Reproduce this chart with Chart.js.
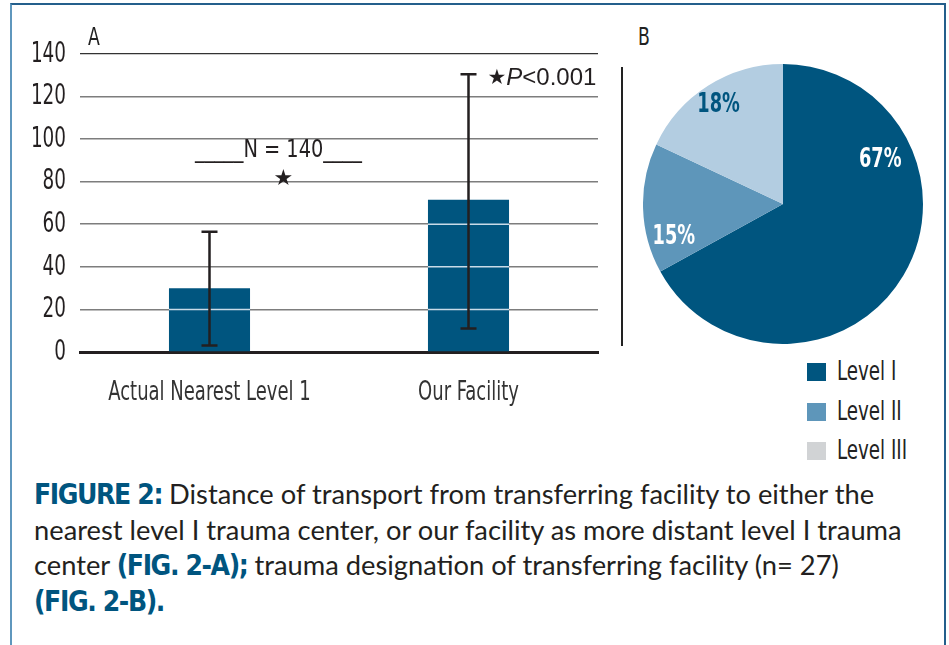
<!DOCTYPE html>
<html>
<head>
<meta charset="utf-8">
<script src="https://cdn.jsdelivr.net/npm/chart.js@4.4.1/dist/chart.umd.min.js"></script>
<style>
html,body{margin:0;padding:0;background:#fff;width:949px;height:645px;overflow:hidden;}
#frame{position:absolute;left:10px;top:3px;width:936px;height:720px;box-sizing:border-box;border:2px solid #245f8c;border-left-color:#5f97bd;}
#barWrap{position:absolute;left:0;top:0;}
#pieWrap{position:absolute;left:643px;top:64px;}
.lbl{position:absolute;font-family:'DejaVu Sans Condensed',sans-serif;font-size:24px;color:#222;line-height:1;transform:scaleX(0.8);transform-origin:left top;}
#sep{position:absolute;left:621px;top:67px;width:2px;height:279px;background:#222;}
#legend{position:absolute;left:807px;top:359px;font-family:'DejaVu Sans Condensed',sans-serif;font-size:26px;color:#222;}
#legend .row{height:39.5px;display:flex;align-items:flex-start;}
#legend .sw{width:19px;height:18px;margin-top:4px;margin-right:11px;flex:none;}
#legend .tx{display:inline-block;transform:scaleX(0.78);transform-origin:left top;line-height:1;margin-top:-1px;white-space:nowrap;}
#caption{position:absolute;left:34px;top:476px;font-family:Lato,'Open Sans',sans-serif;font-size:27.3px;line-height:35px;color:#231f20;white-space:nowrap;}
#caption b{font-family:'DejaVu Sans Condensed',sans-serif;font-weight:bold;color:#00557f;font-size:28px;letter-spacing:-1.4px;}
</style>
</head>
<body>
<div id="frame"></div>
<div id="barWrap"><canvas id="bar" width="620" height="420"></canvas></div>
<div id="sep"></div>
<div id="pieWrap"><canvas id="pie" width="280" height="280"></canvas></div>
<div class="lbl" style="left:88px;top:25px;">A</div>
<div class="lbl" style="left:638px;top:25px;">B</div>
<div id="legend"></div>
<div id="caption"><b>FIGURE 2:</b> Distance of transport from transferring facility to either the<br>nearest level I trauma center, or our facility as more distant level I trauma<br>center <b>(FIG. 2-A);</b> trauma designation of transferring facility (n= 27)<br><b>(FIG. 2-B).</b></div>
<script>
// ---- data ----
const categories = ['Actual Nearest Level 1', 'Our Facility'];
const meanDistance = [30, 71.5];
const errLow = [3, 11];
const errHigh = [56.5, 130.5];
const yMin = 0, yMax = 140, yStep = 20;

const pieLabels = ['Level I', 'Level II', 'Level III'];
const piePercents = [67, 15, 18];
const pieColors = ['#00557f', '#5e96ba', '#b3cde1'];
const legendColors = ['#00557f', '#5e96ba', '#d1d3d5'];
const pieLabelColors = ['#ffffff', '#ffffff', '#00557f'];

const COND = "'DejaVu Sans Condensed',sans-serif";
const REG = "'Liberation Sans','DejaVu Sans',sans-serif";

// draw horizontally condensed text
function condText(ctx, text, x, y, align, font, sx, baseline) {
  ctx.save();
  ctx.translate(x, y);
  ctx.scale(sx, 1);
  ctx.font = font;
  ctx.textAlign = align;
  ctx.textBaseline = baseline || 'middle';
  ctx.fillText(text, 0, 0);
  ctx.restore();
}

// ---- bar chart plugins ----
const barOverlay = {
  id: 'barOverlay',
  afterDatasetsDraw(chart) {
    const ctx = chart.ctx;
    const y = chart.scales.y;
    const meta = chart.getDatasetMeta(0);
    ctx.save();
    meta.data.forEach(bar => {
      const p = bar.getProps(['x', 'y', 'base', 'width'], true);
      y.ticks.forEach(t => {
        const py = y.getPixelForValue(t.value);
        if (t.value > 0 && py > p.y + 1 && py < p.base - 1) {
          ctx.strokeStyle = '#c9dbe8';
          ctx.lineWidth = 1.5;
          ctx.beginPath();
          ctx.moveTo(p.x - p.width / 2, py);
          ctx.lineTo(p.x + p.width / 2, py);
          ctx.stroke();
        }
      });
    });
    ctx.strokeStyle = '#231f20';
    ctx.lineWidth = 2.5;
    meta.data.forEach((bar, i) => {
      const cx = bar.x;
      const yl = y.getPixelForValue(errLow[i]);
      const yh = y.getPixelForValue(errHigh[i]);
      ctx.beginPath();
      ctx.moveTo(cx, yl); ctx.lineTo(cx, yh);
      ctx.moveTo(cx - 8, yl); ctx.lineTo(cx + 8, yl);
      ctx.moveTo(cx - 8, yh); ctx.lineTo(cx + 8, yh);
      ctx.stroke();
    });
    ctx.restore();
  },
  afterDraw(chart) {
    const ctx = chart.ctx;
    const y = chart.scales.y, x = chart.scales.x;
    const area = chart.chartArea;
    ctx.save();
    ctx.fillStyle = '#231f20';
    // axis tick labels (from the scales' own ticks)
    y.ticks.forEach((t, i) => {
      condText(ctx, String(t.value), area.left - 14, y.getPixelForTick(i) + 0.5, 'right', '28px ' + COND, 0.73);
    });
    ctx.fillStyle = '#333';
    x.getLabels().forEach((l, i) => {
      condText(ctx, l, x.getPixelForTick(i), area.bottom + 48, 'center', '26px ' + COND, 0.77, 'alphabetic');
    });
    // annotations
    ctx.fillStyle = '#231f20';
    const step = x.getPixelForValue(1) - x.getPixelForValue(0);
    const ax = x.getPixelForValue(0) + 0.285 * step;
    const ny = y.getPixelForValue(94.5);
    const f = '25px ' + COND, sx = 0.86;
    ctx.font = f;
    const w = ctx.measureText('N = 140').width * sx;
    condText(ctx, 'N = 140', ax, ny, 'center', f, sx);
    condText(ctx, '_____', ax - w / 2, ny, 'right', f, sx);
    condText(ctx, '____', ax + w / 2, ny, 'left', f, sx);
    ctx.textAlign = 'center';
    ctx.textBaseline = 'middle';
    ctx.font = '22px ' + REG;
    ctx.fillText('\u2605', ax, y.getPixelForValue(81.5));
    let px = x.getPixelForValue(1) + 19;
    const py = y.getPixelForValue(128.5);
    ctx.textAlign = 'left';
    ctx.font = '21px ' + REG;
    ctx.fillText('\u2605', px, py);
    px += ctx.measureText('\u2605').width;
    ctx.font = 'italic 24px ' + REG;
    ctx.fillText('P', px, py);
    px += ctx.measureText('P').width;
    ctx.font = '24px ' + REG;
    ctx.fillText('<0.001', px, py);
    ctx.restore();
  }
};

new Chart(document.getElementById('bar'), {
  type: 'bar',
  data: {
    labels: categories,
    datasets: [{
      data: meanDistance,
      backgroundColor: '#00557f',
      borderWidth: 0,
      barPercentage: 0.313,
      categoryPercentage: 1
    }]
  },
  options: {
    responsive: false,
    animation: false,
    layout: { padding: { top: 54, right: 22, left: 0, bottom: 0 } },
    plugins: { legend: { display: false }, tooltip: { enabled: false } },
    scales: {
      x: {
        grid: { display: false, drawTicks: false },
        border: { display: true, color: '#231f20', width: 3 },
        ticks: { display: false },
        afterFit(s) { s.height = 68; }
      },
      y: {
        min: yMin, max: yMax,
        ticks: { display: false, stepSize: yStep },
        grid: {
          drawTicks: false,
          color: c => (c.tick && c.tick.value === yMax) ? '#333' : '#7d7d7d',
          lineWidth: c => (c.tick && c.tick.value === yMax) ? 1.2 : 1.6
        },
        border: { display: false },
        afterFit(s) { s.width = 80; }
      }
    }
  },
  plugins: [barOverlay]
});

// ---- pie chart ----
const labelPlacement = [{ a: -24, r: 0.76 }, { a: 163, r: 0.815 }, { a: 237, r: 0.845 }];
const pieText = {
  id: 'pieText',
  afterDatasetsDraw(chart) {
    const ctx = chart.ctx;
    const meta = chart.getDatasetMeta(0);
    ctx.save();
    meta.data.forEach((arc, i) => {
      const pl = labelPlacement[i];
      const ang = pl.a * Math.PI / 180;
      const tx = arc.x + Math.cos(ang) * arc.outerRadius * pl.r;
      const ty = arc.y + Math.sin(ang) * arc.outerRadius * pl.r;
      ctx.fillStyle = pieLabelColors[i];
      condText(ctx, piePercents[i] + '%', tx, ty, 'center', 'bold 26px ' + COND, 0.76);
    });
    ctx.restore();
  }
};

new Chart(document.getElementById('pie'), {
  type: 'pie',
  data: {
    labels: pieLabels,
    datasets: [{ data: piePercents, backgroundColor: pieColors, borderWidth: 0 }]
  },
  options: {
    responsive: false,
    animation: false,
    layout: { padding: 0 },
    plugins: { legend: { display: false }, tooltip: { enabled: false } }
  },
  plugins: [pieText]
});

// legend (HTML built from data)
const lg = document.getElementById('legend');
pieLabels.forEach((l, i) => {
  const row = document.createElement('div');
  row.className = 'row';
  const sw = document.createElement('div');
  sw.className = 'sw';
  sw.style.background = legendColors[i];
  const t = document.createElement('span');
  t.className = 'tx';
  t.textContent = l;
  row.appendChild(sw); row.appendChild(t);
  lg.appendChild(row);
});
</script>
</body>
</html>
